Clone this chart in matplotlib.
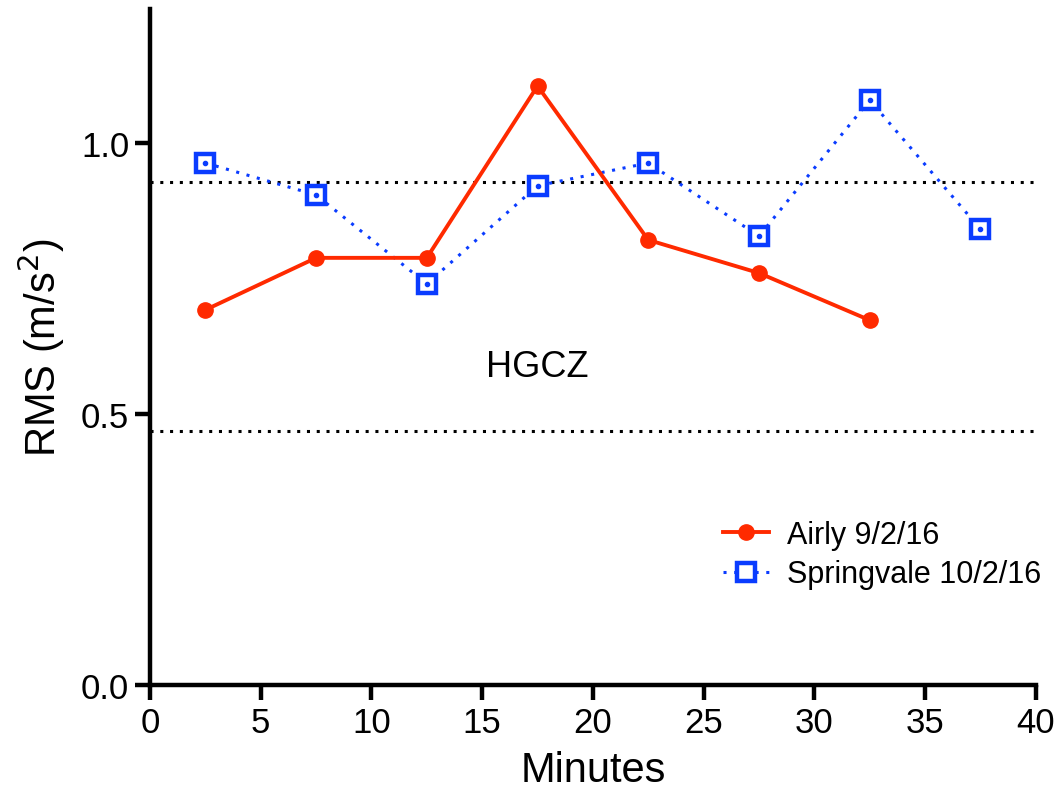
import matplotlib.pyplot as plt

plt.rcParams['font.family'] = ['Liberation Sans', 'DejaVu Sans']

# data
minutes_airly = [2.5, 7.5, 12.5, 17.5, 22.5, 27.5, 32.5]
rms_airly = [0.692, 0.788, 0.788, 1.105, 0.821, 0.760, 0.673]

minutes_spring = [2.5, 7.5, 12.5, 17.5, 22.5, 27.5, 32.5, 37.5]
rms_spring = [0.963, 0.904, 0.740, 0.921, 0.963, 0.828, 1.079, 0.841]

hgcz_upper = 0.928
hgcz_lower = 0.469

red = '#FF2A00'
blue = '#0A3CFF'

fig = plt.figure(figsize=(10.58, 8.03), dpi=100)
ax = fig.add_axes([0.1418, 0.1457, 0.979 - 0.1418, 0.9875 - 0.1457])

# HGCZ band limits
ax.axhline(hgcz_upper, color='black', lw=2.2, ls=(0, (1, 2.2)), zorder=1)
ax.axhline(hgcz_lower, color='black', lw=2.2, ls=(0, (1, 2.2)), zorder=1)

ax.plot(minutes_airly, rms_airly, color=red, lw=2.8, marker='o', ms=11,
        label='Airly 9/2/16', zorder=3)
ax.plot(minutes_spring, rms_spring, color=blue, lw=2.2, ls=(0, (1, 2.5)),
        marker='s', ms=13, mfc='white', mew=3.2, label='Springvale 10/2/16', zorder=2)
ax.plot(minutes_spring, rms_spring, ls='none', marker='o', ms=3, color=blue, zorder=4)

ax.text(17.5, 0.587, 'HGCZ', fontsize=26, ha='center', va='center')

ax.set_xlim(0, 40)
ax.set_ylim(0, 1.247)
ax.set_xticks(range(0, 41, 5))
ax.set_yticks([0.0, 0.5, 1.0])
ax.set_yticklabels(['0.0', '0.5', '1.0'])

for s in ['top', 'right']:
    ax.spines[s].set_visible(False)
for s in ['left', 'bottom']:
    ax.spines[s].set_linewidth(3.2)
ax.tick_params(direction='out', length=11, width=3.2, labelsize=25, pad=4)

ax.set_xlabel('Minutes', fontsize=30, labelpad=8)
ax.set_ylabel('RMS (m/s$^2$)', fontsize=30, labelpad=10)

ax.legend(loc='upper left', bbox_to_anchor=(0.633, 0.262), frameon=False,
          fontsize=22, handlelength=1.5, handletextpad=0.6, labelspacing=0.3,
          borderaxespad=0)

fig.savefig('out.png', dpi=100)
